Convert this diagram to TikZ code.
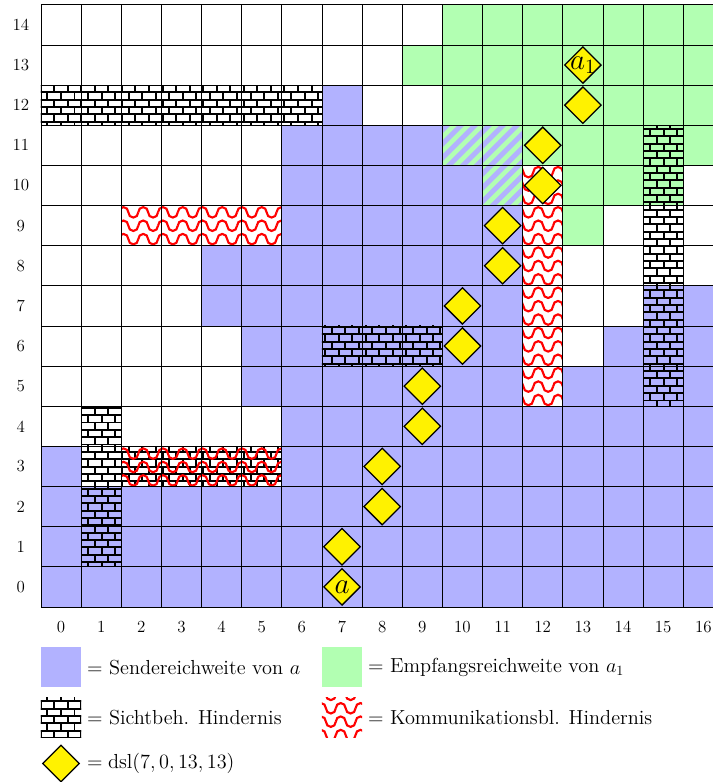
\documentclass[12pt,tikz,border=0pt]{standalone}
\usetikzlibrary{shapes.geometric,patterns,patterns.meta}

\pgfdeclarepatternformonly{mauer}{\pgfpoint{-1pt}{-1pt}}{\pgfpoint{10.6pt}{11.4pt}}{\pgfpoint{9.6pt}{10.4pt}}%
{
  \pgfsetlinewidth{1.4pt}
  \pgfpathmoveto{\pgfpoint{-1pt}{0pt}}\pgfpathlineto{\pgfpoint{10.6pt}{0pt}}
  \pgfpathmoveto{\pgfpoint{-1pt}{5.2pt}}\pgfpathlineto{\pgfpoint{10.6pt}{5.2pt}}
  \pgfpathmoveto{\pgfpoint{0pt}{0pt}}\pgfpathlineto{\pgfpoint{0pt}{5.2pt}}
  \pgfpathmoveto{\pgfpoint{4.8pt}{5.2pt}}\pgfpathlineto{\pgfpoint{4.8pt}{10.4pt}}
  \pgfusepath{stroke}
}

\pgfdeclarepatternformonly{wellen}{\pgfpoint{-1pt}{-1pt}}{\pgfpoint{15pt}{10.5pt}}{\pgfpoint{14pt}{9.5pt}}%
{
  \pgfsetlinewidth{1.5pt}
  \pgfpathmoveto{\pgfpoint{0pt}{4.75pt}}
  \pgfpatharcaxes{180}{0}{\pgfpoint{3.5pt}{0pt}}{\pgfpoint{0pt}{3.7pt}}
  \pgfpatharcaxes{180}{360}{\pgfpoint{3.5pt}{0pt}}{\pgfpoint{0pt}{3.7pt}}
  \pgfusepath{stroke}
}

\begin{document}
\begin{tikzpicture}[
    sender/.style={fill=blue!30},
    empf/.style={fill=green!30},
    beides/.style={pattern={Lines[angle=45,distance=7pt,line width=3.5pt]}, pattern color=blue!30},
    sicht/.style={pattern=mauer, pattern color=black},
    komm/.style={pattern=wellen, pattern color=red},
    dsl/.style={diamond, draw=black, line width=0.9pt, fill=yellow, minimum size=0.92cm, inner sep=0pt},
    legtext/.style={anchor=west, font=\large}
  ]
  \useasboundingbox (-1.02,-4.36) rectangle (16.72,15.12);

  \foreach \r/\a/\b in {0/0/16, 1/0/16, 2/0/16, 3/0/0, 3/6/16, 4/6/16, 5/5/11, 5/13/16,
      6/5/11, 6/14/16, 7/4/11, 7/15/16, 8/4/11, 9/6/11, 10/6/10, 11/6/9, 12/7/7}
    \fill[sender] (\a,\r) rectangle (\b+1,\r+1);
  \foreach \r/\a/\b in {14/10/16, 13/9/16, 12/10/16, 11/12/16, 10/13/15, 9/13/13}
    \fill[empf] (\a,\r) rectangle (\b+1,\r+1);
  \foreach \c/\r in {10/11, 11/11, 11/10} {
    \fill[empf] (\c,\r) rectangle (\c+1,\r+1);
    \fill[beides] (\c,\r) rectangle (\c+1,\r+1);
  }

  \fill[sicht] (0,12) rectangle (7,13);
  \fill[sicht] (1,1) rectangle (2,5);
  \fill[sicht] (2,3) rectangle (6,4);
  \fill[sicht] (7,6) rectangle (10,7);
  \fill[sicht] (15,5) rectangle (16,12);

  \fill[komm] (2,9) rectangle (6,10);
  \fill[komm] (2,3) rectangle (6,4);
  \fill[komm] (12,5) rectangle (13,11);

  \draw[line width=0.5pt] (0,0) grid (17,15);

  \foreach \c/\r [count=\i from 0] in {7/0, 7/1, 8/2, 8/3, 9/4, 9/5, 10/6, 10/7,
      11/8, 11/9, 12/10, 12/11, 13/12, 13/13}
    \node[dsl] (d\i) at (\c+0.5,\r+0.5) {};
  \node[font=\LARGE] (ta) at (d0.center) {$a$};
  \node[font=\LARGE] (tb) at (d13.center) {$a_1$};

  \foreach \c in {0,...,16}
    \node (x\c) at (\c+0.5,-0.5) {\c};
  \foreach \r in {0,...,14}
    \node (y\r) at (-0.5,\r+0.5) {\r};

  \fill[sender] (0,-2) rectangle (1,-1);
  \node[legtext] (l1) at (1,-1.5) {$=$ Sendereichweite von $a$};
  \fill[empf] (7,-2) rectangle (8,-1);
  \node[legtext] (l2) at (8,-1.5) {$=$ Empfangsreichweite von $a_1$};
  \fill[sicht] (0,-3.25) rectangle (1,-2.25);
  \node[legtext] (l3) at (1,-2.75) {$=$ Sichtbeh. Hindernis};
  \fill[komm] (7,-3.25) rectangle (8,-2.25);
  \node[legtext] (l4) at (8,-2.75) {$=$ Kommunikationsbl. Hindernis};
  \node[dsl] (ld) at (0.5,-3.9) {};
  \node[legtext] (l5) at (1,-3.9) {$=\mathrm{dsl}(7,0,13,13)$};
\end{tikzpicture}
\end{document}
